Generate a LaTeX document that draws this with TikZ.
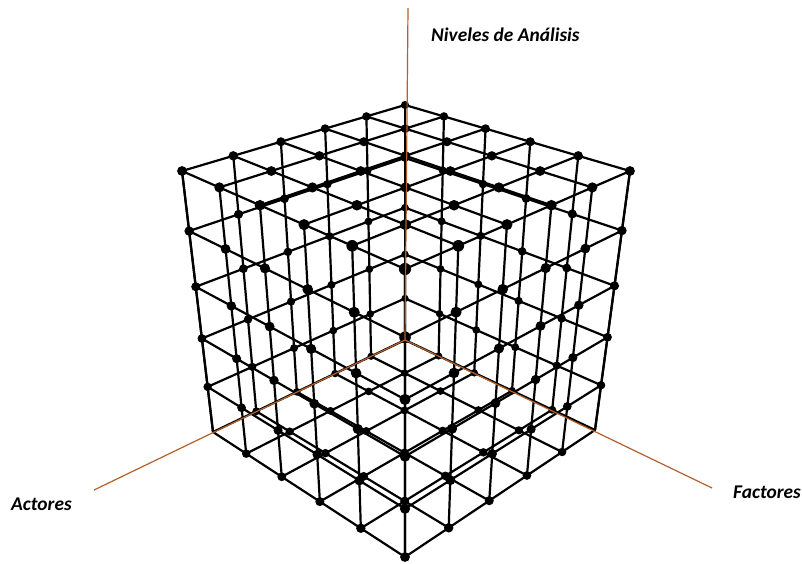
\documentclass[tikz,border=0pt]{standalone}
\usepackage{fontspec}
\setmainfont{Carlito}
\definecolor{axiscol}{HTML}{B4602A}
\tikzset{
  wire/.style={black,line width=2.2pt,line cap=round},
  axisline/.style={axiscol,line width=1.2pt},
  axislabel/.style={font=\fontsize{19.4}{21}\selectfont\bfseries\itshape,inner sep=0pt,anchor=base west}
}
% bilinear helper: value from the four corners of a face (back,left,right,front)
\newcommand{\faceval}[4]{((1-\uu)*(1-\vv)*(#1)+\uu*(1-\vv)*(#2)+(1-\uu)*\vv*(#3)+\uu*\vv*(#4))}
\begin{document}
\begin{tikzpicture}[x=1pt,y=-1pt]
\useasboundingbox (0,0) rectangle (802,563);
% lattice points
\foreach \i in {0,...,5}{\foreach \j in {0,...,5}{\foreach \k in {0,...,5}{
  \pgfmathsetmacro\uu{\i/5}\pgfmathsetmacro\vv{\j/5}\pgfmathsetmacro\ww{\k/5}
  \pgfmathsetmacro\dt{\faceval{1}{.837}{.837}{.674}}
  \pgfmathsetmacro\db{\faceval{1.163}{1}{1}{.837}}
  \pgfmathsetmacro\xt{\faceval{405}{.837*182}{.837*630}{.674*405}}
  \pgfmathsetmacro\yt{\faceval{105}{.837*171}{.837*171}{.674*269}}
  \pgfmathsetmacro\xb{\faceval{1.163*405}{213}{595}{.837*405}}
  \pgfmathsetmacro\yb{\faceval{1.163*340}{432}{430}{.837*557}}
  \pgfmathsetmacro\dd{(1-\ww)*\dt+\ww*\db}
  \pgfmathsetmacro\px{((1-\ww)*\xt+\ww*\xb)/\dd}
  \pgfmathsetmacro\py{((1-\ww)*\yt+\ww*\yb)/\dd}
  \coordinate (p-\i-\j-\k) at (\px,\py);
}}}
% top and bottom grids
\foreach \k in {0,5}{\foreach \n in {0,...,5}{
  \draw[wire] (p-\n-0-\k) -- (p-\n-5-\k);
  \draw[wire] (p-0-\n-\k) -- (p-5-\n-\k);
}}
% rings on the four sides
\foreach \k in {1,...,4}{
  \draw[wire,line join=round] (p-0-0-\k) -- (p-5-0-\k) -- (p-5-5-\k) -- (p-0-5-\k) -- cycle;
}
% uprights on the four sides
\foreach \n in {0,...,5}{
  \draw[wire] (p-\n-0-0) -- (p-\n-0-5);
  \draw[wire] (p-\n-5-0) -- (p-\n-5-5);
  \draw[wire] (p-0-\n-0) -- (p-0-\n-5);
  \draw[wire] (p-5-\n-0) -- (p-5-\n-5);
}
% dots on the surface of the cube
\foreach \i in {0,...,5}{\foreach \j in {0,...,5}{\foreach \k in {0,...,5}{
  \pgfmathtruncatemacro\onsurf{(\i==0||\i==5||\j==0||\j==5||\k==0||\k==5)?1:0}
  \pgfmathtruncatemacro\skipit{(\k==5&&((\i==5&&\j==0)||(\i==0&&\j==5)))?1:0}
  \ifnum\onsurf=1 \ifnum\skipit=0
    \pgfmathsetmacro\uu{\i/5}\pgfmathsetmacro\vv{\j/5}\pgfmathsetmacro\ww{\k/5}
    \pgfmathsetmacro\dt{\faceval{1}{.837}{.837}{.674}}
    \pgfmathsetmacro\db{\faceval{1.163}{1}{1}{.837}}
    \pgfmathsetmacro\rr{4.1/((1-\ww)*\dt+\ww*\db)}
    \fill[black] (p-\i-\j-\k) circle[radius=\rr pt];
  \fi\fi
}}}
% axes
\coordinate (axtop) at (408,8);
\coordinate (axleft) at (94,490);
\coordinate (axright) at (712,488);
\draw[axisline] (axtop) -- (p-0-0-5);
\draw[axisline] (axleft) -- (p-0-0-5);
\draw[axisline] (axright) -- (p-0-0-5);
% labels
\node[axislabel] (lniv) at (431,41) {Niveles de Análisis};
\node[axislabel] (lact) at (11,510) {Actores};
\node[axislabel] (lfac) at (733,498) {Factores};
\end{tikzpicture}
\end{document}
